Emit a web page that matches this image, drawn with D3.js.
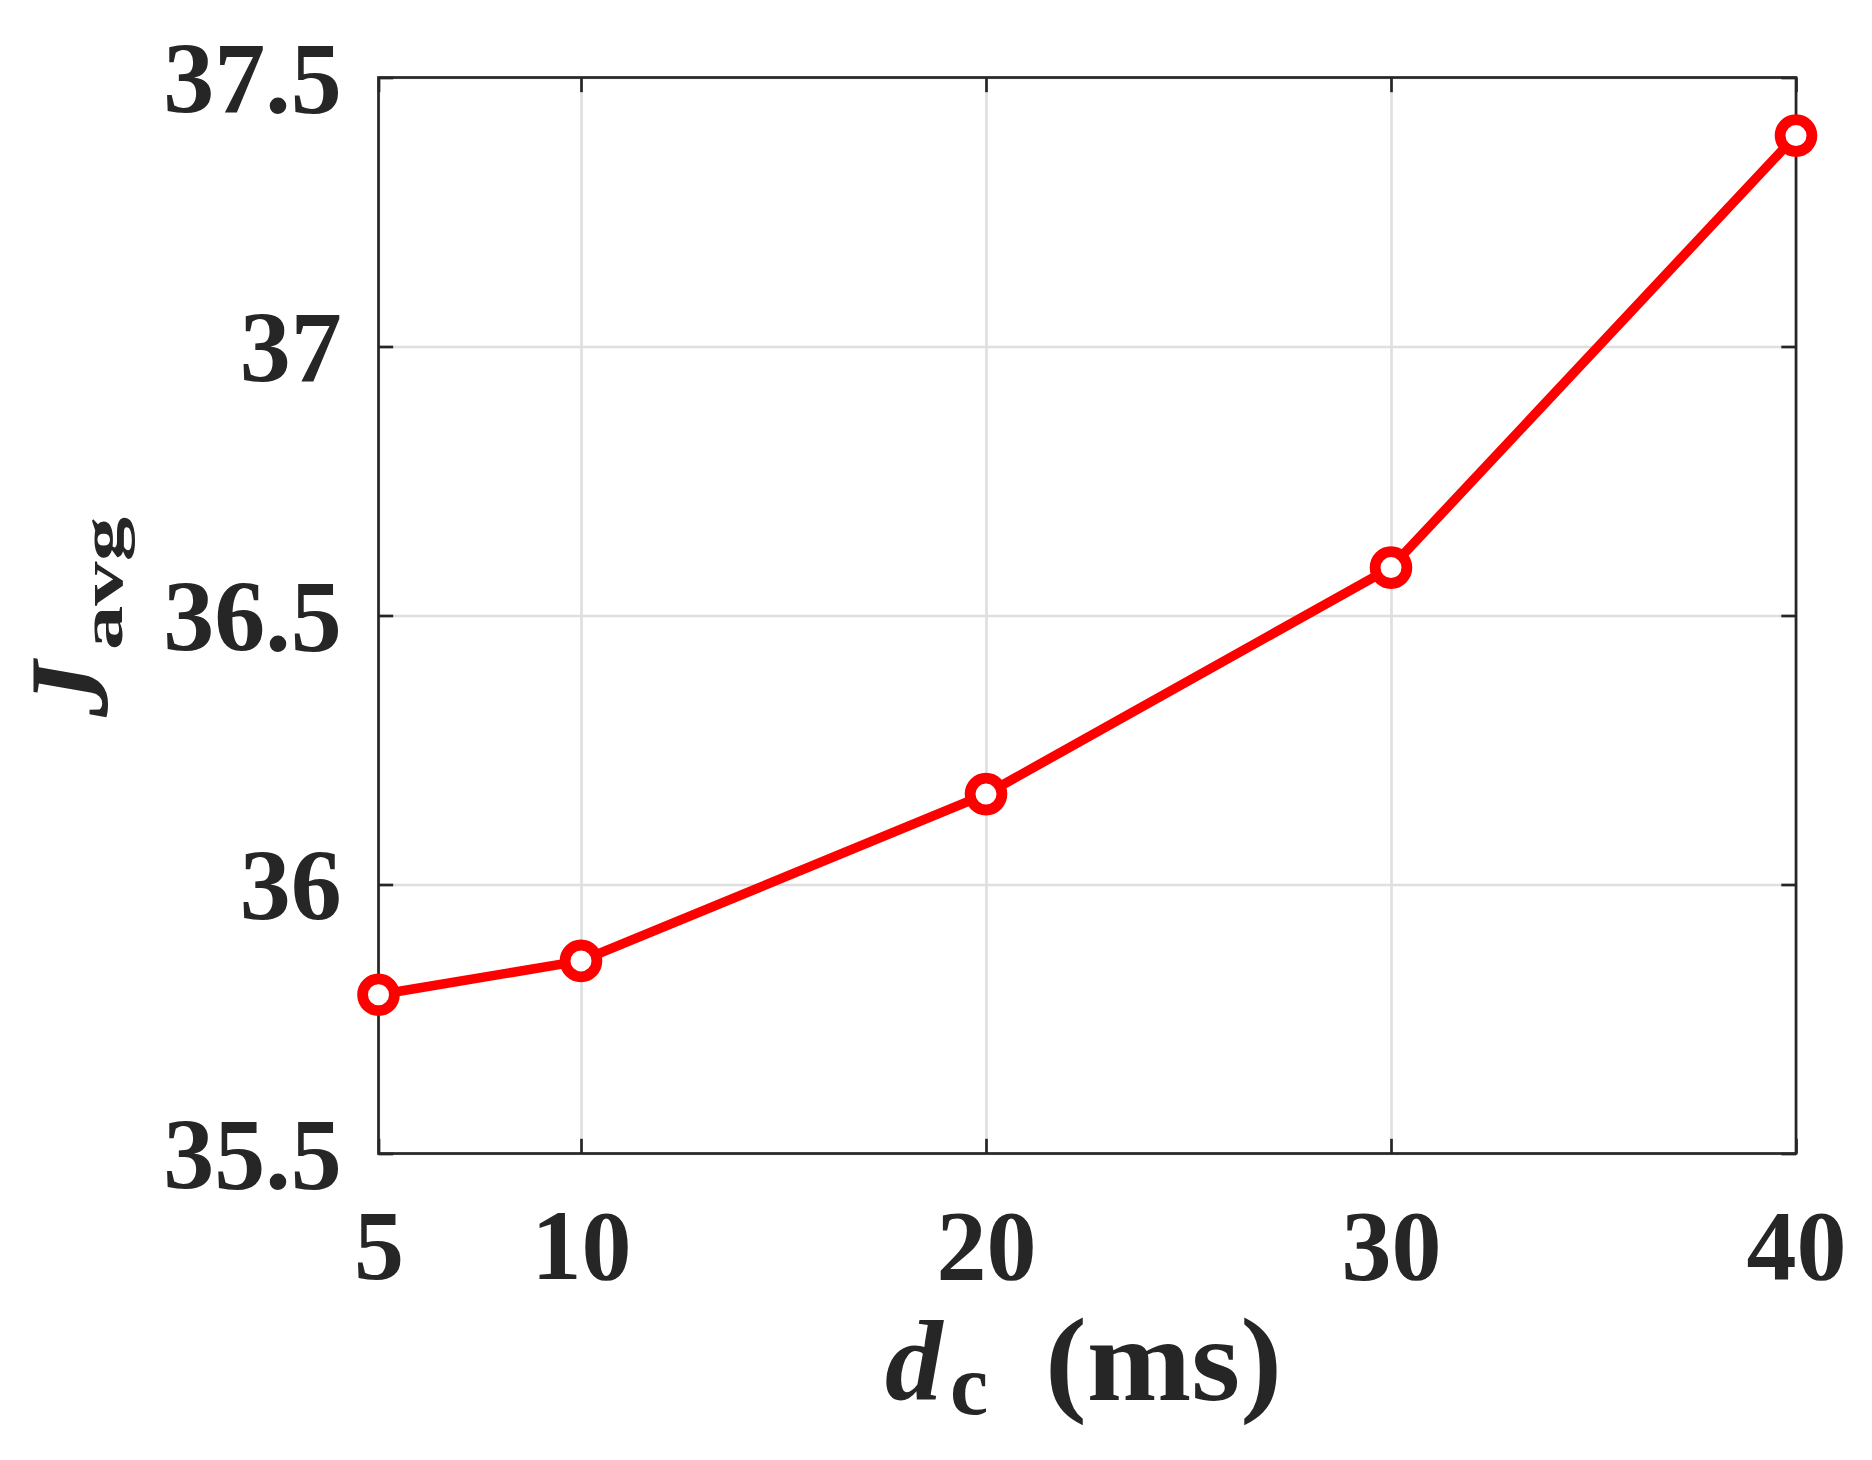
<!DOCTYPE html>
<html><head><meta charset="utf-8">
<script src="https://cdn.jsdelivr.net/npm/d3@7/dist/d3.min.js"></script>
<style>body{margin:0;background:#fff}</style>
</head><body>
<svg id="c" width="1872" height="1460"></svg>
<script>
// ---- data ----
const dcValues = [5, 10, 20, 30, 40];
const jAvgValues = [35.795, 35.858, 36.168, 36.589, 37.392];
const xTickValues = [5, 10, 20, 30, 40];
const xTickLabels = ["5", "10", "20", "30", "40"];
const yTickValues = [35.5, 36, 36.5, 37, 37.5];
const yTickLabels = ["35.5", "36", "36.5", "37", "37.5"];

// ---- layout ----
const W = 1872, H = 1460;
const L = 378.5, R = 1796, T = 77.5, B = 1153.5;
const axisColor = "#262626";
const gridColor = "#dfdfdf";
const serif = '"Liberation Serif", "Times New Roman", serif';

const svg = d3.select("#c");
svg.append("rect").attr("width", W).attr("height", H).attr("fill", "#fff");

const x = d3.scaleLinear().domain([5, 40]).range([L, R]);
const y = d3.scaleLinear().domain([35.5, 37.5]).range([B, T]);

// grid
const grid = svg.append("g");
grid.append("g").attr("transform", `translate(0,${B})`)
  .call(d3.axisBottom(x).tickValues(xTickValues).tickSize(-(B - T)).tickFormat(""))
  .call(g => g.select(".domain").remove())
  .call(g => g.selectAll("line").attr("stroke", gridColor).attr("stroke-width", 2.6));
grid.append("g").attr("transform", `translate(${L},0)`)
  .call(d3.axisLeft(y).tickValues(yTickValues).tickSize(-(R - L)).tickFormat(""))
  .call(g => g.select(".domain").remove())
  .call(g => g.selectAll("line").attr("stroke", gridColor).attr("stroke-width", 2.6));

// axes with inward ticks
const tl = 14.7;
function styleAxis(g) {
  g.select(".domain").remove();
  g.selectAll("line").attr("stroke", axisColor).attr("stroke-width", 2.7);
}
const xb = svg.append("g").attr("transform", `translate(0,${B})`)
  .call(d3.axisBottom(x).tickValues(xTickValues).tickSize(-tl).tickFormat((d, i) => xTickLabels[i]))
  .call(styleAxis);
xb.selectAll("text").attr("y", 125.5).attr("dy", null)
  .style("font-family", serif).style("font-weight", "bold").style("font-size", "100px")
  .attr("fill", axisColor);
svg.append("g").attr("transform", `translate(0,${T})`)
  .call(d3.axisTop(x).tickValues(xTickValues).tickSize(-tl).tickFormat(""))
  .call(styleAxis);
const yl = svg.append("g").attr("transform", `translate(${L},0)`)
  .call(d3.axisLeft(y).tickValues(yTickValues).tickSize(-tl).tickFormat((d, i) => yTickLabels[i]))
  .call(styleAxis);
yl.selectAll("text").attr("x", -(L - 341.7)).attr("dy", null).attr("y", 35)
  .style("font-family", serif).style("font-weight", "bold").style("font-size", "102px")
  .attr("fill", axisColor);
svg.append("g").attr("transform", `translate(${R},0)`)
  .call(d3.axisRight(y).tickValues(yTickValues).tickSize(-tl).tickFormat(""))
  .call(styleAxis);

// box
svg.append("rect").attr("x", L).attr("y", T).attr("width", R - L).attr("height", B - T)
  .attr("fill", "none").attr("stroke", axisColor).attr("stroke-width", 2.7);

// line + markers
const pts = dcValues.map((d, i) => [d, jAvgValues[i]]);
svg.append("path").datum(pts)
  .attr("d", d3.line().x(d => x(d[0])).y(d => y(d[1])))
  .attr("fill", "none").attr("stroke", "#ff0000").attr("stroke-width", 9.5)
  .attr("stroke-linejoin", "round");
svg.append("g").selectAll("circle").data(pts).join("circle")
  .attr("cx", d => x(d[0])).attr("cy", d => y(d[1])).attr("r", 15.9)
  .attr("fill", "#fff").attr("stroke", "#ff0000").attr("stroke-width", 10.8);

// x label: d_c (ms)
const xt = svg.append("text")
  .style("font-family", serif).style("font-weight", "bold").attr("fill", axisColor);
xt.append("tspan").attr("x", 885).attr("y", 1400)
  .style("font-style", "italic").style("font-size", "115px").text("d");
xt.append("tspan").attr("x", 950).attr("y", 1414)
  .style("font-size", "86px").text("c");
xt.append("tspan").attr("x", 1045).attr("y", 1400)
  .style("font-size", "118px").attr("textLength", 237).attr("lengthAdjust", "spacingAndGlyphs")
  .text("(ms)");

// y label: J_avg (rotated)
const yt = svg.append("text").attr("transform", "translate(107,717) rotate(-90)")
  .style("font-family", serif).style("font-weight", "bold").attr("fill", axisColor);
yt.append("tspan").attr("x", 0).attr("y", 0)
  .style("font-style", "italic").style("font-size", "112px").text("J");
yt.append("tspan").attr("x", 67).attr("y", 15)
  .style("font-size", "60px").attr("textLength", 133).attr("lengthAdjust", "spacingAndGlyphs")
  .text("avg");
</script>
</body></html>
